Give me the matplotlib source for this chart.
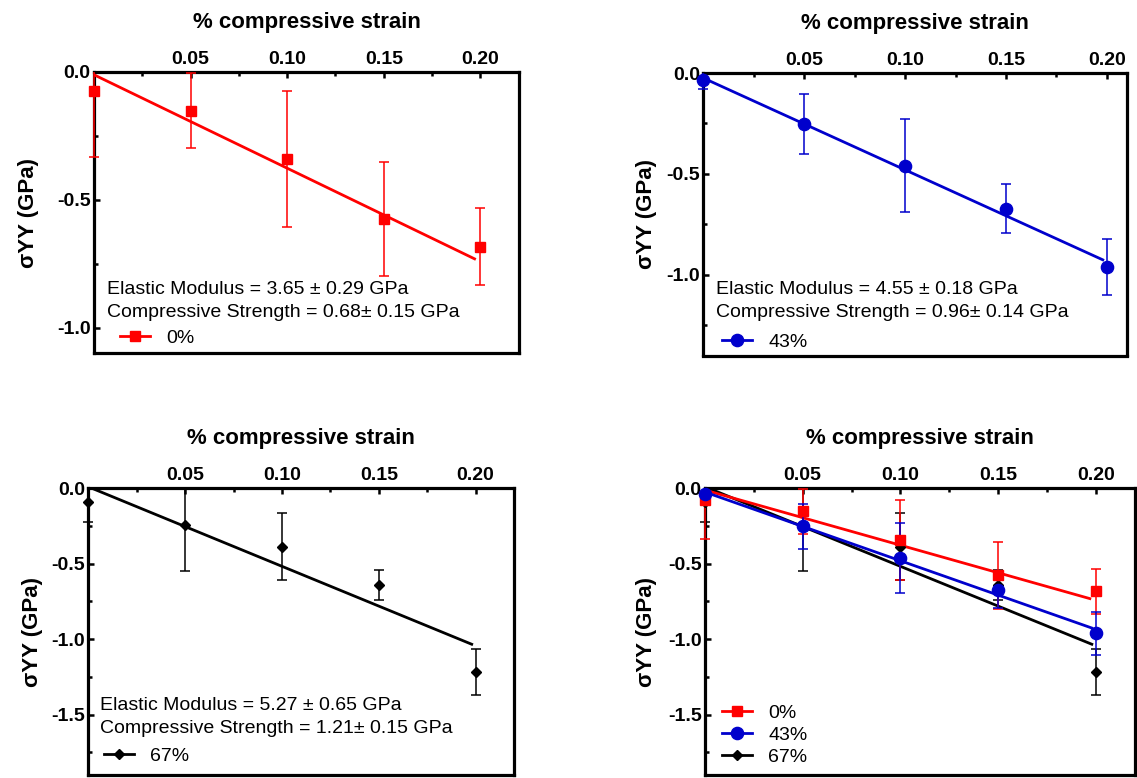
import matplotlib
matplotlib.use('Agg')
import matplotlib.pyplot as plt
from matplotlib.lines import Line2D
from matplotlib.patches import Rectangle
from matplotlib.ticker import FixedLocator, FormatStrFormatter
import matplotlib.transforms as mtransforms

plt.rcParams['font.family'] = ['Liberation Sans', 'DejaVu Sans']
plt.rcParams['axes.unicode_minus'] = False

# ---------------- data
strain = [0.0, 0.05, 0.10, 0.15, 0.20]

s0_mean = [-0.075, -0.152, -0.342, -0.576, -0.683]
s0_err = [0.258, 0.148, 0.265, 0.222, 0.150]
s43_mean = [-0.036, -0.253, -0.460, -0.673, -0.962]
s43_err = [0.042, 0.150, 0.231, 0.122, 0.140]
s67_mean = [-0.093, -0.244, -0.388, -0.642, -1.218]
s67_err = [0.129, 0.305, 0.222, 0.100, 0.155]

labels = ['0%', '43%', '67%']
colors = ['#FF0000', '#0000CC', '#000000']
markers = ['s', 'o', 'D']
msizes = [6.6, 8.8, 5.6]

# linear fits: slope, intercept, x range
fit_slope = [-3.65, -4.55, -5.27]
fit_intercept = [-0.012, -0.025, 0.01]
fit_start = [0.0, 0.0, 0.003]
fit_end = [0.197, 0.198, 0.198]

notes = [
    ['Elastic Modulus = 3.65 \u00b1 0.29 GPa', 'Compressive Strength = 0.68\u00b1 0.15 GPa'],
    ['Elastic Modulus = 4.55 \u00b1 0.18 GPa', 'Compressive Strength = 0.96\u00b1 0.14 GPa'],
    ['Elastic Modulus = 5.27 \u00b1 0.65 GPa', 'Compressive Strength = 1.21\u00b1 0.15 GPa'],
]

means = [s0_mean, s43_mean, s67_mean]
errs = [s0_err, s43_err, s67_err]

# ---------------- plotting
W, H = 1137, 778
fig = plt.figure(figsize=(W / 100, H / 100), dpi=100)


def px_axes(left, right, top, bottom):
    return fig.add_axes([left / W, 1 - bottom / H, (right - left) / W, (bottom - top) / H])


def setup(ax, xmax, ymin, ylabel_x):
    ax.set_xlim(0, xmax)
    ax.set_ylim(ymin, 0)
    ax.xaxis.tick_top()
    ax.xaxis.set_major_locator(FixedLocator([0.05, 0.10, 0.15, 0.20]))
    ax.xaxis.set_minor_locator(FixedLocator([0.025, 0.075, 0.125, 0.175]))
    yt = [-0.5 * v + 0.0 for v in range(0, 4) if -0.5 * v >= ymin]
    ymt = [-0.5 * v - 0.25 for v in range(0, 4) if -0.5 * v - 0.25 >= ymin]
    ax.yaxis.set_major_locator(FixedLocator(yt))
    ax.yaxis.set_minor_locator(FixedLocator(ymt))
    ax.xaxis.set_major_formatter(FormatStrFormatter('%.2f'))
    ax.yaxis.set_major_formatter(FormatStrFormatter('%.1f'))
    ax.tick_params(which='major', direction='in', length=4.5, width=1.8,
                   labelsize=14, pad=3.0)
    ax.tick_params(which='minor', direction='in', length=2.6, width=1.8)
    ax.tick_params(axis='x', which='both', top=True, bottom=False)
    ax.tick_params(axis='y', which='both', left=True, right=False, pad=2.4)
    for lab in ax.get_xticklabels() + ax.get_yticklabels():
        lab.set_fontweight('bold')
    for sp in ax.spines.values():
        sp.set_linewidth(2.3)
    off = mtransforms.offset_copy(ax.transAxes, fig=fig, x=0, y=44, units='dots')
    ax.text(0.5, 1.0, '% compressive strain', transform=off, ha='center',
            va='baseline', fontsize=16, fontweight='bold')
    ax.text(ylabel_x, 0.5, '\u03c3YY (GPa)', transform=ax.transAxes,
            rotation=90, ha='center', va='center', fontsize=16, fontweight='bold')


def draw_series(ax, i):
    clip = Rectangle((-0.1, 0), 1.2, 1, transform=ax.transAxes,
                     facecolor='none', edgecolor='none')
    eb = ax.errorbar(strain, means[i], yerr=errs[i], fmt='none', ecolor=colors[i],
                     elinewidth=1.1, capsize=3.6, capthick=1.1, zorder=3)
    for art in list(eb[1]) + list(eb[2]):
        art.set_clip_path(clip)
    xs = [fit_start[i], fit_end[i]]
    ys = [fit_intercept[i] + fit_slope[i] * x for x in xs]
    ax.plot(xs, ys, color=colors[i], lw=2.0, zorder=3)
    ax.plot(strain, means[i], linestyle='none', marker=markers[i],
            ms=msizes[i], color=colors[i], clip_on=False, zorder=4)


def handle(i):
    return Line2D([], [], color=colors[i], lw=2.0, marker=markers[i], ms=msizes[i])


def add_legend(ax, idx, x0, yc):
    ax.legend([handle(i) for i in idx], [labels[i] for i in idx],
              loc='center left', bbox_to_anchor=(x0, yc), frameon=False,
              fontsize=14, handlelength=1.55, handletextpad=0.85,
              borderpad=0, borderaxespad=0, labelspacing=0.22)


# single-series panels
panels = [
    # index, (left, right, top, bottom), xmax, ymin, ylabel x, note x, note ys, legend x, legend y
    (0, (94, 519, 71.7, 353.3), 0.22, -1.1, -0.155, 0.031, (0.225, 0.144), 0.061, 0.053),
    (1, (703.3, 1127, 73, 355.5), 0.21, -1.4, -0.133, 0.031, (0.233, 0.151), 0.044, 0.048),
    (2, (88.3, 514.3, 488.3, 775), 0.22, -1.9, -0.132, 0.027, (0.244, 0.162), 0.036, 0.066),
]
for i, box, xmax, ymin, ylx, nx, nys, lx, ly in panels:
    ax = px_axes(*box)
    setup(ax, xmax, ymin, ylx)
    draw_series(ax, i)
    for txt, ny in zip(notes[i], nys):
        ax.text(nx, ny, txt, transform=ax.transAxes, ha='left', va='center', fontsize=14)
    add_legend(ax, [i], lx, ly)

# combined panel
ax = px_axes(705, 1134.8, 488.3, 775)
setup(ax, 0.22, -1.9, -0.135)
for i in [2, 0, 1]:
    draw_series(ax, i)
add_legend(ax, [0, 1, 2], 0.039, 0.14)

fig.savefig('out.png', dpi=100)
